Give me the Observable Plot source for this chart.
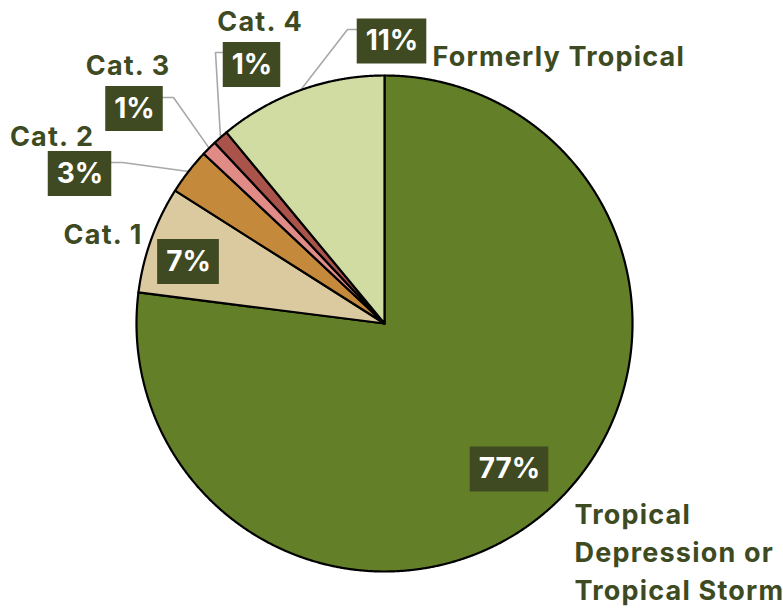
<!DOCTYPE html>
<html>
<head>
<meta charset="utf-8">
<script src="https://cdn.jsdelivr.net/npm/d3@7"></script>
<script src="https://cdn.jsdelivr.net/npm/@observablehq/plot@0.6"></script>
<style>
  html, body { margin: 0; padding: 0; background: #fff; }
  #chart svg { display: block; }
</style>
</head>
<body>
<div id="chart"></div>
<script>
// Share of storms by strength category (percent)
const categories = ["Tropical Depression or Tropical Storm", "Cat. 1", "Cat. 2", "Cat. 3", "Cat. 4", "Formerly Tropical"];
const shares = [77, 7, 3, 1, 1, 11];
const percentLabels = ["77%", "7%", "3%", "1%", "1%", "11%"];
const nameLabels = ["Tropical\nDepression or\nTropical Storm", "Cat. 1", "Cat. 2", "Cat. 3", "Cat. 4", "Formerly Tropical"];
const sliceColors = ["#638029", "#dbc99f", "#c4893b", "#e08b86", "#a9534b", "#d0dca1"];

// Geometry (pixels)
const W = 783, H = 609;
const cx = 384, cy = 323, R = 248;
const unitX = px => (px - cx) / R;
const unitY = py => (cy - py) / R;

const ink = "#3e4a21";
const fontFamily = "Inter, 'Open Sans', sans-serif";
const nameSize = 27, pctSize = 28, nameSpacing = 1.2, lineGap = 38;

// Label placement in pixels: box centre, name anchor (baseline), leader elbow and end
const placement = {
  "Tropical Depression or Tropical Storm": {box: [509, 469], name: [574, 523], anchor: "start"},
  "Cat. 1": {box: [188, 261.5], name: [102, 243]},
  "Cat. 2": {box: [79.5, 173.5], name: [51, 145], leader: [[122, 162], [109, 162]]},
  "Cat. 3": {box: [134, 108.5], name: [127, 74], leader: [[173, 97], [161, 97]]},
  "Cat. 4": {box: [251.5, 64.5], name: [259, 30], leader: [[215, 52], [225, 52]]},
  "Formerly Tropical": {box: [391.5, 41], name: [432, 65], anchor: "start", leader: [[347, 29], [358, 29]]}
};

// Pie angles: start at 12 o'clock, clockwise
const arcs = d3.pie().sort(null).value(d => d)(shares);
const polar = (a, r) => [r * Math.sin(a), r * Math.cos(a)];

const slicePoints = arcs.flatMap((a, i) => {
  const category = categories[i];
  const n = Math.max(2, Math.ceil((a.endAngle - a.startAngle) / 0.004));
  const pts = [{category, x: 0, y: 0}];
  for (let k = 0; k <= n; ++k) {
    const [x, y] = polar(a.startAngle + (a.endAngle - a.startAngle) * k / n, 1);
    pts.push({category, x, y});
  }
  pts.push({category, x: 0, y: 0});
  return pts;
});

// Leader lines from the rim at each slice's mid-angle to its label box
const leaderPoints = arcs.flatMap((a, i) => {
  const p = placement[categories[i]];
  if (!p.leader) return [];
  const [x0, y0] = polar((a.startAngle + a.endAngle) / 2, 1);
  return [
    {category: categories[i], x: x0, y: y0},
    ...p.leader.map(([px, py]) => ({category: categories[i], x: unitX(px), y: unitY(py)}))
  ];
});

// Label boxes sized to their text
const ctx = document.createElement("canvas").getContext("2d");
ctx.font = `700 ${pctSize}px ${fontFamily}`;
const boxPad = 8.5, boxH = 45;
const boxes = categories.map((category, i) => {
  const [bx, by] = placement[category].box;
  const w = ctx.measureText(percentLabels[i]).width + 2 * boxPad;
  return {
    category, label: percentLabels[i],
    x: unitX(bx), y: unitY(by),
    x1: unitX(bx - w / 2), x2: unitX(bx + w / 2),
    y1: unitY(by + boxH / 2), y2: unitY(by - boxH / 2)
  };
});

// Category names, one row per text line
const names = categories.flatMap((category, i) => {
  const p = placement[category];
  return nameLabels[i].split("\n").map((label, j) => ({
    category, label,
    x: unitX(p.name[0] + (p.anchor === "start" ? 0 : nameSpacing / 2)),
    y: unitY(p.name[1] + j * lineGap),
    anchor: p.anchor || "middle"
  }));
});

const nameMark = (rows, textAnchor) => Plot.text(rows, {
  x: "x", y: "y", text: "label", textAnchor, lineAnchor: "bottom",
  fill: ink, fontSize: nameSize, fontWeight: 700, fontFamily
});

const chart = Plot.plot({
  width: W, height: H,
  margin: 0,
  x: {domain: [unitX(0), unitX(W)], axis: null},
  y: {domain: [unitY(H), unitY(0)], axis: null},
  color: {domain: categories, range: sliceColors},
  style: {background: "#fff", overflow: "visible"},
  marks: [
    Plot.line(leaderPoints, {x: "x", y: "y", z: "category", stroke: "#a8a8a8", strokeWidth: 1.6, curve: "linear"}),
    Plot.line(slicePoints, {x: "x", y: "y", z: "category", fill: "category", stroke: "#000", strokeWidth: 2.2, strokeLinejoin: "round", curve: "linear"}),
    Plot.rect(boxes, {x1: "x1", x2: "x2", y1: "y1", y2: "y2", fill: "#3f4a22"}),
    Plot.text(boxes, {x: "x", y: "y", text: "label", fill: "#fff", fontSize: pctSize, fontWeight: 700, fontFamily}),
    nameMark(names.filter(d => d.anchor === "middle"), "middle"),
    nameMark(names.filter(d => d.anchor === "start"), "start")
  ]
});

// Open up the tracking of the category names
d3.select(chart).selectAll(`g[fill="${ink}"] text`).style("letter-spacing", `${nameSpacing}px`);

document.getElementById("chart").append(chart);
</script>
</body>
</html>
